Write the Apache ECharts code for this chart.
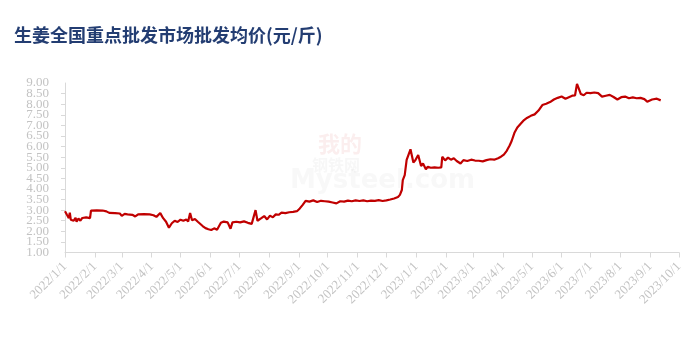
<!DOCTYPE html>
<html>
<head>
<meta charset="utf-8">
<script src="https://cdn.jsdelivr.net/npm/echarts@6/dist/echarts.min.js"></script>
<style>
html,body{margin:0;padding:0;background:#fff;}
#chart{width:700px;height:353px;}
</style>
</head>
<body>
<div id="chart"></div>
<script>
const titleText = '生姜全国重点批发市场批发均价(元/斤)';
const tickLabels = ['2022/1/1','2022/2/1','2022/3/1','2022/4/1','2022/5/1','2022/6/1','2022/7/1','2022/8/1','2022/9/1','2022/10/1','2022/11/1','2022/12/1','2023/1/1','2023/2/1','2023/3/1','2023/4/1','2023/5/1','2023/6/1','2023/7/1','2023/8/1','2023/9/1','2023/10/1'];
const yEndLabels = [1, 9];
const dates = [
'2022-01-01','2022-01-03','2022-01-05','2022-01-06','2022-01-07','2022-01-10','2022-01-12','2022-01-13','2022-01-15','2022-01-17','2022-01-19','2022-01-21','2022-01-23','2022-01-25','2022-01-27','2022-01-28',
'2022-02-03','2022-02-09','2022-02-13','2022-02-16','2022-02-22','2022-02-27',
'2022-03-01','2022-03-04','2022-03-07','2022-03-09','2022-03-12','2022-03-15','2022-03-18','2022-03-24','2022-03-30',
'2022-04-03','2022-04-06','2022-04-10','2022-04-13','2022-04-16','2022-04-19','2022-04-22','2022-04-25','2022-04-28',
'2022-05-01','2022-05-04','2022-05-07','2022-05-09','2022-05-11','2022-05-13','2022-05-16','2022-05-19','2022-05-21','2022-05-24','2022-05-27','2022-05-30',
'2022-06-02','2022-06-05','2022-06-08','2022-06-10','2022-06-12','2022-06-15','2022-06-19','2022-06-22','2022-06-24','2022-06-28',
'2022-07-02','2022-07-06','2022-07-10','2022-07-14','2022-07-18','2022-07-20','2022-07-24','2022-07-27','2022-07-30',
'2022-08-02','2022-08-05','2022-08-08','2022-08-11','2022-08-14','2022-08-18','2022-08-22','2022-08-26','2022-08-30',
'2022-09-02','2022-09-05','2022-09-08','2022-09-12','2022-09-16','2022-09-20','2022-09-24','2022-09-28',
'2022-10-02','2022-10-06','2022-10-10','2022-10-14','2022-10-18','2022-10-22','2022-10-26','2022-10-30',
'2022-11-03','2022-11-07','2022-11-11','2022-11-15','2022-11-19','2022-11-23','2022-11-27',
'2022-12-01','2022-12-05','2022-12-09','2022-12-13','2022-12-15','2022-12-17','2022-12-18','2022-12-20','2022-12-22','2022-12-26','2022-12-29','2022-12-31',
'2023-01-03','2023-01-06','2023-01-08','2023-01-11','2023-01-13','2023-01-16','2023-01-20','2023-01-24','2023-01-27','2023-01-28','2023-01-31',
'2023-02-03','2023-02-06','2023-02-09','2023-02-12','2023-02-16','2023-02-19','2023-02-23','2023-02-27',
'2023-03-03','2023-03-07','2023-03-11','2023-03-15','2023-03-19','2023-03-23','2023-03-27','2023-03-30',
'2023-04-02','2023-04-05','2023-04-08','2023-04-10','2023-04-13','2023-04-16','2023-04-19','2023-04-23','2023-04-26','2023-04-30',
'2023-05-04','2023-05-08','2023-05-12','2023-05-16','2023-05-20','2023-05-24','2023-05-28',
'2023-06-01','2023-06-05','2023-06-08','2023-06-12','2023-06-15','2023-06-17','2023-06-19','2023-06-21','2023-06-24','2023-06-27',
'2023-07-01','2023-07-05','2023-07-09','2023-07-13','2023-07-17','2023-07-21','2023-07-25','2023-07-29',
'2023-08-02','2023-08-06','2023-08-10','2023-08-14','2023-08-18','2023-08-22','2023-08-26','2023-08-29',
'2023-09-03','2023-09-08','2023-09-12'
];
const prices = [
2.95,2.78,2.62,2.88,2.55,2.50,2.64,2.45,2.60,2.50,2.63,2.55,2.66,2.58,2.62,2.98,
2.99,2.98,2.94,2.87,2.86,2.84,
2.73,2.82,2.80,2.86,2.78,2.70,2.80,2.81,2.80,
2.76,2.68,2.86,2.62,2.45,2.17,2.38,2.50,2.44,
2.55,2.50,2.56,2.46,2.86,2.52,2.58,2.45,2.52,2.25,2.15,2.10,
2.06,2.14,2.07,2.12,2.40,2.46,2.42,2.12,2.42,2.45,
2.42,2.47,2.40,2.35,3.00,2.50,2.62,2.72,2.56,
2.74,2.66,2.80,2.78,2.88,2.86,2.90,2.92,2.95,
3.08,3.25,3.44,3.40,3.46,3.38,3.44,3.42,
3.40,3.36,3.32,3.42,3.40,3.45,3.42,3.46,
3.43,3.46,3.42,3.45,3.44,3.47,3.43,
3.46,3.50,3.55,3.62,3.72,3.95,4.42,4.65,5.37,5.87,5.25,5.35,
5.60,5.08,5.20,4.93,5.05,5.00,5.02,5.00,5.02,5.52,5.35,
5.48,5.38,5.45,5.32,5.20,5.36,5.32,5.38,
5.34,5.33,5.30,5.36,5.40,5.38,5.45,5.52,
5.62,5.80,6.05,6.25,6.65,6.90,7.05,7.25,7.35,7.45,
7.52,7.70,7.96,8.02,8.10,8.22,8.30,
8.36,8.26,8.32,8.40,8.42,8.96,8.72,8.48,8.42,8.54,
8.52,8.55,8.52,8.36,8.40,8.44,8.34,8.22,
8.33,8.36,8.28,8.32,8.28,8.30,8.24,8.12,
8.22,8.26,8.18
];

const DAY = 86400000;
function toDay(s){ const p = s.split(/[\/-]/).map(Number); return Math.round(Date.UTC(p[0], p[1]-1, p[2]) / DAY); }
const tickValues = tickLabels.map(toDay);
const labelMap = {};
tickLabels.forEach((l,i)=>{ labelMap[tickValues[i]] = l; });
const seriesData = dates.map((d,i)=>[toDay(d), prices[i]]);

const chart = echarts.init(document.getElementById('chart'), null, {renderer:'canvas'});
const axisFont = '"Liberation Serif","Times New Roman",serif';
const yLabelStyle = {color:'#c3c3c3', fontFamily:axisFont, fontSize:13, margin:16,
  formatter:function(v){ return Number(v).toFixed(2); }};
chart.setOption({
  animation:false,
  backgroundColor:'#ffffff',
  title:{
    text:titleText, left:9, top:21,
    textStyle:{fontFamily:'"Noto Sans CJK SC",sans-serif', fontSize:18, fontWeight:'bold', color:'#233d72'}
  },
  graphic:[
    {type:'text', left:318, top:133, style:{text:'我的', fill:'rgba(200,40,40,0.08)', font:'bold 22px "Noto Sans CJK SC"'}},
    {type:'text', left:312, top:157, style:{text:'钢铁网', fill:'rgba(150,150,150,0.08)', font:'bold 16px "Noto Sans CJK SC"'}},
    {type:'text', left:290, top:168, style:{text:'Mysteel.com', fill:'rgba(160,160,160,0.08)', font:'bold 26px "DejaVu Sans"'}}
  ],
  grid:{left:65, right:21, top:83, bottom:100.5},
  xAxis:{
    type:'value',
    min:tickValues[0], max:tickValues[tickValues.length-1],
    axisLine:{lineStyle:{color:'#d9d9d9'}},
    axisTick:{show:true, customValues:tickValues, length:5, lineStyle:{color:'#d9d9d9'}},
    splitLine:{show:false},
    axisLabel:{
      customValues:tickValues, rotate:45, margin:12, color:'#c3c3c3',
      fontFamily:axisFont, fontSize:13, hideOverlap:false,
      formatter:function(v){ return labelMap[v] !== undefined ? labelMap[v] : ''; }
    }
  },
  yAxis:[{
    type:'value', min:1, max:9, interval:0.5, position:'left',
    axisLine:{show:true, lineStyle:{color:'#d9d9d9'}},
    axisTick:{show:true, length:4, lineStyle:{color:'#d9d9d9'}},
    splitLine:{show:false},
    axisLabel:Object.assign({}, yLabelStyle)
  },{
    type:'value', min:1, max:9, position:'left', offset:0,
    axisLine:{show:false}, axisTick:{show:false}, splitLine:{show:false},
    axisLabel:Object.assign({customValues:yEndLabels, showMinLabel:true, showMaxLabel:true}, yLabelStyle)
  }],
  series:[{
    type:'line', data:seriesData, showSymbol:false, symbol:'none', yAxisIndex:0,
    lineStyle:{color:'#c00000', width:2.2}, itemStyle:{color:'#c00000'}
  }]
});
</script>
</body>
</html>
